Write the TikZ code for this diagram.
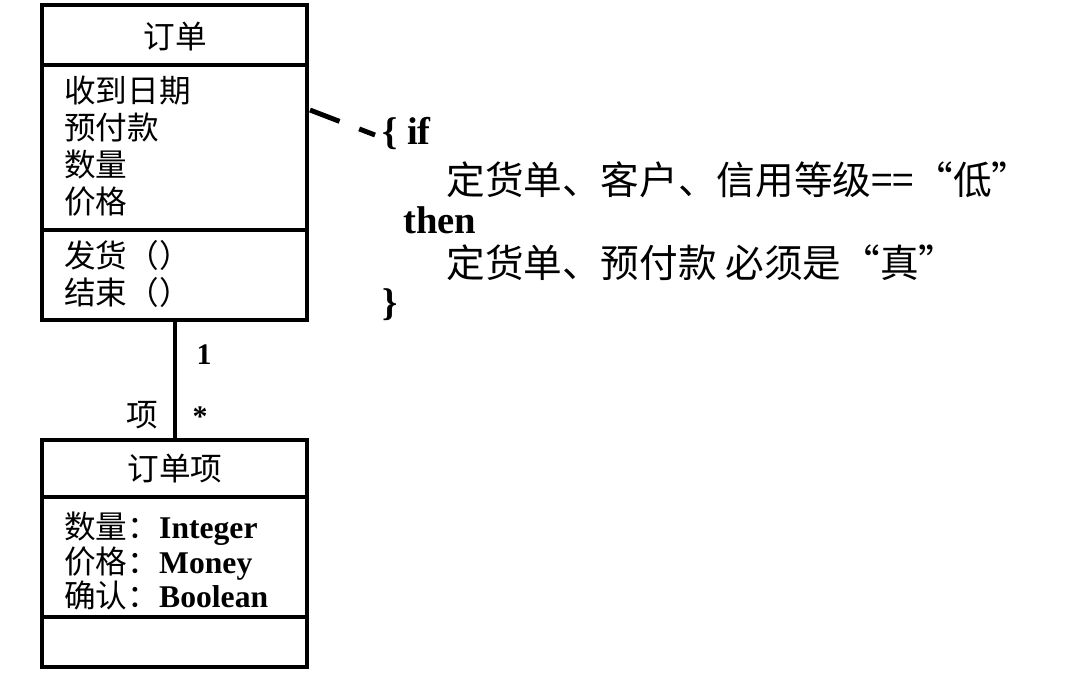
\documentclass[tikz,border=0pt]{standalone}
\usepackage{fontspec}
\setmainfont{Noto Sans CJK SC}
\newfontfamily\lat{Liberation Serif}
\tikzset{
  box/.style={draw, line width=2.8pt},
  attr/.style={anchor=north west, align=left, inner sep=0pt, font=\fontsize{18}{21}\selectfont},
  head/.style={inner sep=0pt, font=\fontsize{18}{18}\selectfont},
  rule/.style={font=\fontsize{22}{24}\selectfont, anchor=west, inner sep=0pt},
}
\begin{document}
\begin{tikzpicture}[x=0.02cm, y=-0.02cm]
    \useasboundingbox (0,0) rectangle (1090,690);
    % order class
    \draw[box] (42,5) rectangle (307,320);
    \draw[box] (42,65) -- (307,65);
    \draw[box] (42,230) -- (307,230);
    \node[head] (order) at (175,37) {订单};
    \node[attr] (orderattr) at (64,76) {收到日期\\预付款\\数量\\价格};
    \node[attr] (orderops) at (64,240) {发货（）\\结束（）};

    % order line class
    \draw[box] (42,440) rectangle (307,667);
    \draw[box] (42,497) -- (307,497);
    \draw[box] (42,617) -- (307,617);
    \node[head] (line) at (175,469) {订单项};
    \node[attr, font=\fontsize{18}{19.5}\selectfont] (lineattr) at (64,512) {数量：{\lat\bfseries Integer}\\价格：{\lat\bfseries Money}\\确认：{\lat\bfseries Boolean}};

    % association
    \coordinate (top) at (175,322);
    \coordinate (bot) at (175,440);
    \draw[line width=2.8pt] (top) -- (bot);
    \node[head, font=\lat\bfseries\fontsize{17}{18}\selectfont] (one) at (204,355) {1};
    \node[head, font=\lat\bfseries\fontsize{17}{18}\selectfont] (many) at (200,417) {*};
    \node[head] (role) at (142,415) {项};

    % constraint
    \coordinate (c1) at (310,110);
    \coordinate (c2) at (375,135);
    \draw[line width=2.8pt, dash pattern=on 18pt off 12pt] (c1) -- (c2);
    \node[rule] (if) at (382,133) {\lat\bfseries \{ if};
    \node[rule] (cond) at (446,180) {定货单、客户、信用等级==“低”};
    \node[rule] (then) at (403,220) {\lat\bfseries then};
    \node[rule] (act) at (446,263) {定货单、预付款 必须是“真”};
    \node[rule] (close) at (382,305) {\lat\bfseries \}};
\end{tikzpicture}
\end{document}
